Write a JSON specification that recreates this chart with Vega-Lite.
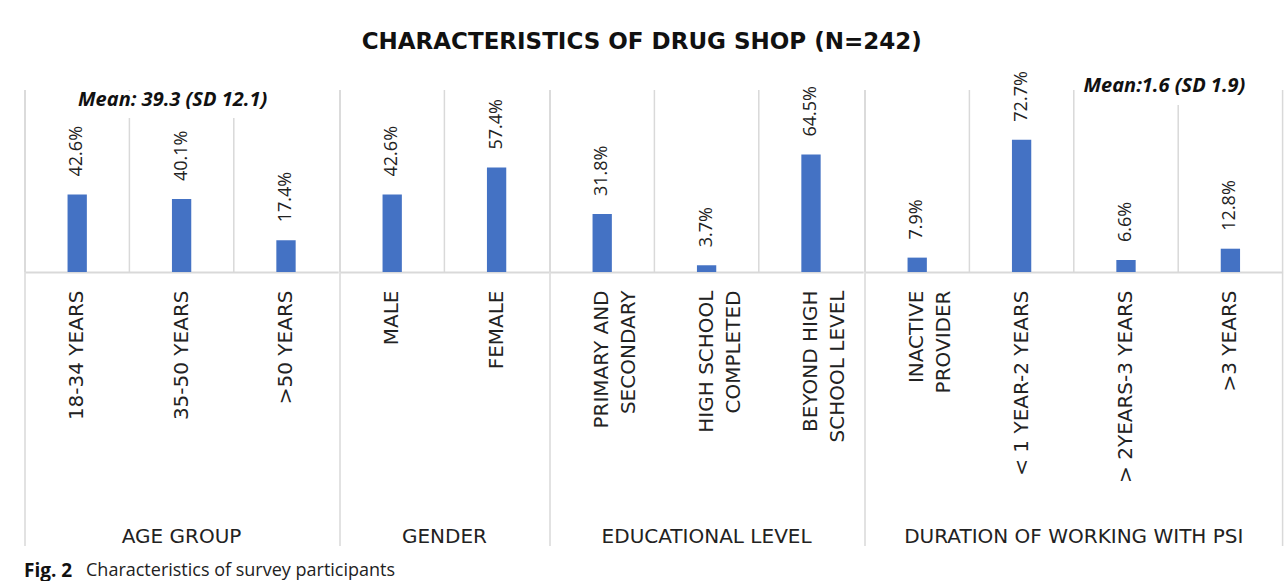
{
  "$schema": "https://vega.github.io/schema/vega-lite/v6.json",
  "background": "white",
  "padding": {"left": 24, "top": 31, "right": 5, "bottom": 0},
  "config": {"view": {"stroke": null}, "font": "DejaVu Sans"},
  "title": {"text": "Characteristics of survey participants", "orient": "bottom", "anchor": "start", "dx": 62, "dy": 0, "offset": -19, "font": "Open Sans", "fontSize": 18, "fontWeight": "normal", "color": "#222"},
  "vconcat": [
    {
      "data": {"values": [
        {"order": 1, "group": "AGE GROUP", "cat": "18-34 YEARS", "pct": 42.6, "label": "42.6%"},
        {"order": 2, "group": "AGE GROUP", "cat": "35-50 YEARS", "pct": 40.1, "label": "40.1%", "note": "Mean:  39.3 (SD 12.1)"},
        {"order": 3, "group": "AGE GROUP", "cat": ">50 YEARS", "pct": 17.4, "label": "17.4%"},
        {"order": 4, "group": "GENDER", "cat": "MALE", "pct": 42.6, "label": "42.6%"},
        {"order": 5, "group": "GENDER", "cat": "FEMALE", "pct": 57.4, "label": "57.4%"},
        {"order": 6, "group": "EDUCATIONAL LEVEL", "cat": "PRIMARY AND\nSECONDARY", "pct": 31.8, "label": "31.8%"},
        {"order": 7, "group": "EDUCATIONAL LEVEL", "cat": "HIGH SCHOOL\nCOMPLETED", "pct": 3.7, "label": "3.7%"},
        {"order": 8, "group": "EDUCATIONAL LEVEL", "cat": "BEYOND HIGH\nSCHOOL LEVEL", "pct": 64.5, "label": "64.5%"},
        {"order": 9, "group": "DURATION OF WORKING WITH PSI", "cat": "INACTIVE\nPROVIDER", "pct": 7.9, "label": "7.9%"},
        {"order": 10, "group": "DURATION OF WORKING WITH PSI", "cat": "< 1 YEAR-2 YEARS", "pct": 72.7, "label": "72.7%"},
        {"order": 11, "group": "DURATION OF WORKING WITH PSI", "cat": "> 2YEARS-3 YEARS", "pct": 6.6, "label": "6.6%"},
        {"order": 12, "group": "DURATION OF WORKING WITH PSI", "cat": ">3 YEARS", "pct": 12.8, "label": "12.8%", "note": "Mean:1.6 (SD 1.9)"}
      ]},
      "title": {"text": "CHARACTERISTICS OF DRUG SHOP (N=242)", "font": "DejaVu Sans", "fontSize": 23, "fontWeight": "bold", "color": "#111", "dx": -12, "offset": 17, "anchor": "middle"},
      "facet": {
        "column": {
          "field": "group", "type": "nominal",
          "sort": ["AGE GROUP", "GENDER", "EDUCATIONAL LEVEL", "DURATION OF WORKING WITH PSI"],
          "header": {
            "title": "Fig. 2", "titleOrient": "bottom", "titleAnchor": "start", "titleFont": "Open Sans", "titleFontSize": 19, "titleFontWeight": "bold", "titleColor": "#111", "titlePadding": 5,
            "labelOrient": "bottom", "labelFont": "DejaVu Sans", "labelFontSize": 20, "labelColor": "#222", "labelPadding": -20
          }
        }
      },
      "spacing": 0,
      "resolve": {"scale": {"x": "independent"}},
      "spec": {
        "width": {"step": 104.4},
        "height": 182,
        "layer": [
          {
            "mark": {"type": "rule", "color": "#d9d9d9", "strokeWidth": 1.5},
            "encoding": {
              "x": {"field": "cat", "type": "nominal", "sort": {"field": "order", "op": "min"}, "bandPosition": 0,
                "scale": {"paddingInner": 0, "paddingOuter": 0},
                "axis": {"title": null, "labelAngle": -90, "labelFont": "DejaVu Sans", "labelFontSize": 20, "labelColor": "#222", "labelLineHeight": 27, "labelExpr": "split(datum.label, '\\n')", "labelPadding": 18, "labelLimit": 400, "ticks": false, "grid": false, "domainColor": "#d9d9d9", "domainWidth": 2, "minExtent": 245, "maxExtent": 245}},
              "y": {"datum": 100, "type": "quantitative", "scale": {"domain": [0, 100]}, "axis": null},
              "y2": {"datum": 0}
            }
          },
          {
            "transform": [
              {"joinaggregate": [{"op": "min", "field": "order", "as": "first"}], "groupby": ["group"]},
              {"filter": "datum.order == datum.first"}
            ],
            "mark": {"type": "rule", "color": "#d9d9d9", "strokeWidth": 1.5, "clip": false},
            "encoding": {
              "x": {"field": "cat", "type": "nominal", "sort": {"field": "order", "op": "min"}, "bandPosition": 0},
              "y": {"datum": 100},
              "y2": {"datum": -150.5}
            }
          },
          {
            "transform": [{"filter": "datum.order == 12"}],
            "mark": {"type": "rule", "color": "#d9d9d9", "strokeWidth": 1.5, "clip": false},
            "encoding": {
              "x": {"field": "cat", "type": "nominal", "sort": {"field": "order", "op": "min"}, "bandPosition": 1},
              "y": {"datum": 100},
              "y2": {"datum": -150.5}
            }
          },
          {
            "mark": {"type": "bar", "color": "#4472C4", "width": {"band": 0.185}},
            "encoding": {
              "x": {"field": "cat", "type": "nominal", "sort": {"field": "order", "op": "min"}},
              "y": {"field": "pct", "type": "quantitative"}
            }
          },
          {
            "mark": {"type": "text", "angle": 270, "align": "left", "baseline": "middle", "dx": 18, "font": "Open Sans", "fontSize": 18, "color": "#222"},
            "encoding": {
              "x": {"field": "cat", "type": "nominal", "sort": {"field": "order", "op": "min"}},
              "y": {"field": "pct", "type": "quantitative"},
              "text": {"field": "label"}
            }
          },
          {
            "transform": [{"filter": "datum.order == 2"}],
            "mark": {"type": "bar", "color": "white", "width": 200, "xOffset": -9},
            "encoding": {
              "x": {"field": "cat", "type": "nominal", "sort": {"field": "order", "op": "min"}},
              "y": {"datum": 99.5},
              "y2": {"datum": 84.6}
            }
          },
          {
            "transform": [{"filter": "datum.order == 12"}],
            "mark": {"type": "bar", "color": "white", "width": 176, "xOffset": -66},
            "encoding": {
              "x": {"field": "cat", "type": "nominal", "sort": {"field": "order", "op": "min"}},
              "y": {"datum": 99.5},
              "y2": {"datum": 91.8}
            }
          },
          {
            "transform": [{"filter": "datum.order == 2"}],
            "mark": {"type": "text", "font": "Open Sans", "fontSize": 20, "fontWeight": "bold", "fontStyle": "italic", "color": "#111", "dx": -9, "baseline": "middle"},
            "encoding": {
              "x": {"field": "cat", "type": "nominal", "sort": {"field": "order", "op": "min"}},
              "y": {"datum": 94.5},
              "text": {"field": "note"}
            }
          },
          {
            "transform": [{"filter": "datum.order == 12"}],
            "mark": {"type": "text", "font": "Open Sans", "fontSize": 20, "fontWeight": "bold", "fontStyle": "italic", "color": "#111", "dx": -66, "baseline": "middle"},
            "encoding": {
              "x": {"field": "cat", "type": "nominal", "sort": {"field": "order", "op": "min"}},
              "y": {"datum": 102},
              "text": {"field": "note"}
            }
          }
        ]
      }
    }
  ]
}
